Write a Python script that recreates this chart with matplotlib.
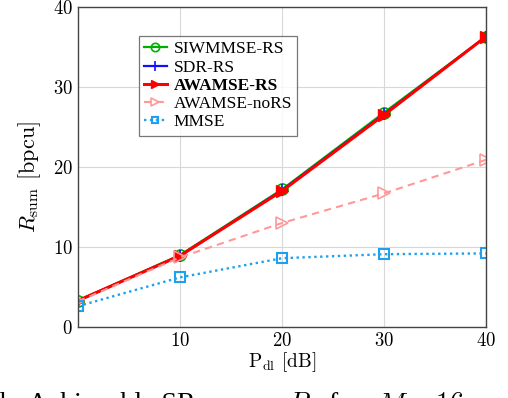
import matplotlib
matplotlib.use("Agg")
import matplotlib.pyplot as plt

plt.rcParams['font.family'] = ['cmr10', 'DejaVu Serif']
plt.rcParams['mathtext.fontset'] = 'cm'
plt.rcParams['axes.formatter.use_mathtext'] = True

p_dl = [0, 10, 20, 30, 40]
siwmmse_rs = [3.3, 9.0, 17.2, 26.8, 36.3]
sdr_rs = [3.3, 8.9, 17.1, 26.6, 36.3]
awamse_rs = [3.3, 8.9, 17.0, 26.5, 36.3]
awamse_nors = [3.2, 8.7, 13.0, 16.7, 20.9]
mmse = [2.6, 6.2, 8.6, 9.1, 9.2]

fig = plt.figure(figsize=(5.08, 3.98), dpi=100)
ax = fig.add_axes([78/508, 1 - 327/398, 408/508, 320/398])

ax.plot(p_dl, siwmmse_rs, color='#00b000', marker='o', mfc='none', ms=8,
        mew=1.2, lw=1.6, label='SIWMMSE-RS')
ax.plot(p_dl, sdr_rs, color='#1010ff', marker='+', ms=9, mew=1.2, lw=1.6,
        label='SDR-RS')
ax.plot(p_dl, awamse_rs, color='#ff0000', marker='>', ms=8, lw=2.2,
        label='AWAMSE-RS')
ax.plot(p_dl, awamse_nors, color='#ff9999', marker='>', mfc='none', ms=8,
        mew=1.2, lw=1.5, ls=(0, (3.5, 2.5)), label='AWAMSE-noRS')
ax.plot(p_dl, mmse, color='#1ea0ee', marker='s', mfc='none', ms=6.5,
        mew=1.5, lw=1.7, ls=(0, (1, 1.5)), label='MMSE')

ax.set_xlim(0, 40)
ax.set_ylim(0, 40)
ax.set_xticks([10, 20, 30, 40])
ax.set_yticks([0, 10, 20, 30, 40])
ax.grid(True, color='#d8d8d8', lw=0.8)
ax.tick_params(labelsize=13.5, direction='in', length=0)
for s in ax.spines.values():
    s.set_color('#444444')
    s.set_linewidth(1.0)

ax.set_xlabel(r'P$_{\mathrm{dl}}$ [dB]', fontsize=14, labelpad=0)
ax.set_ylabel(r'$R_{\mathrm{sum}}$ [bpcu]', fontsize=16)
ax.yaxis.set_label_coords(-0.087, 0.47)

leg = ax.legend(loc='upper left', bbox_to_anchor=((139 - 78) / 408, (327 - 36) / 320),
                prop={'family': 'Liberation Serif', 'size': 12.5},
                frameon=True, fancybox=False, edgecolor='#555555',
                handlelength=1.3, handletextpad=0.4, borderpad=0.3,
                labelspacing=0.12, borderaxespad=0, markerscale=0.75)
leg.get_frame().set_linewidth(0.9)
for t in leg.get_texts():
    if t.get_text() == 'AWAMSE-RS':
        t.set_fontweight('bold')

# caption of the figure, only the tops of its letters are inside the picture
cap_y = -13 / 398
cap_parts = [(0, 'b.'), (28, 'Achievable SR versus'), (288, r'$P_{\mathrm{dl}}$'),
             (328, 'for'), (377, r'$M = 16$'), (490, 'antennas')]
for x0, s in cap_parts:
    fig.text(x0 / 508, cap_y, s, ha='left', va='baseline', fontsize=20,
             family='Liberation Serif')

fig.savefig('out.png', dpi=100)
